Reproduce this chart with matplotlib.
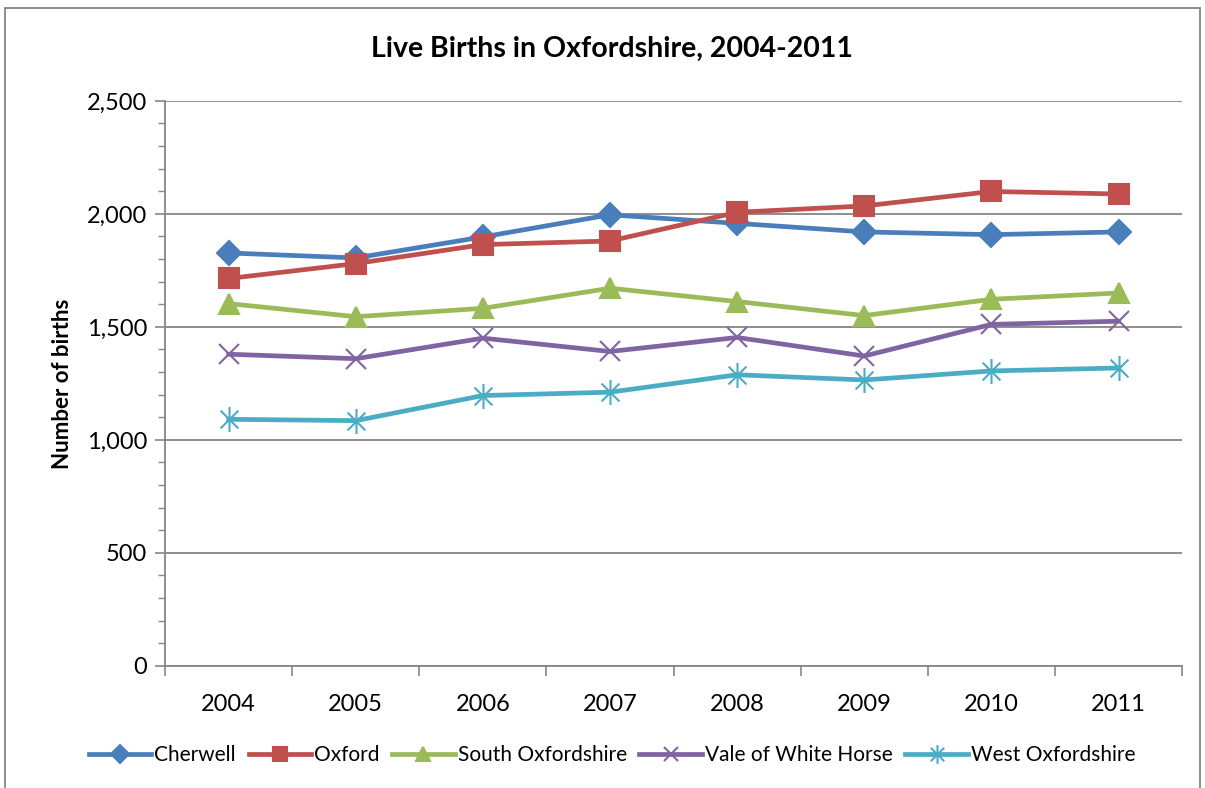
import numpy as np
import matplotlib.pyplot as plt
from matplotlib.path import Path
from matplotlib.patches import Rectangle
from matplotlib.ticker import FuncFormatter, MultipleLocator, FixedLocator

plt.rcParams['font.family'] = ['Lato', 'DejaVu Sans']

years = ['2004', '2005', '2006', '2007', '2008', '2009', '2010', '2011']
cherwell = [1827, 1805, 1898, 1996, 1958, 1920, 1908, 1920]
oxford = [1714, 1780, 1864, 1880, 2007, 2035, 2099, 2088]
south_oxon = [1603, 1545, 1582, 1671, 1612, 1550, 1622, 1650]
vale = [1379, 1359, 1450, 1391, 1453, 1371, 1511, 1525]
west_oxon = [1091, 1085, 1196, 1211, 1288, 1265, 1305, 1318]

# asterisk marker: x plus a vertical bar (Excel style)
star = Path([(-1, -1), (1, 1), (-1, 1), (1, -1), (0, -1.4), (0, 1.4)],
            [Path.MOVETO, Path.LINETO, Path.MOVETO, Path.LINETO, Path.MOVETO, Path.LINETO])

series = [
    ("Cherwell", cherwell, "#4A7EBB", "D", 12),
    ("Oxford", oxford, "#C0504D", "s", 14),
    ("South Oxfordshire", south_oxon, "#9BBB59", "^", 14),
    ("Vale of White Horse", vale, "#8064A2", "x", 14),
    ("West Oxfordshire", west_oxon, "#4BACC6", star, 18),
]

fig = plt.figure(figsize=(12.05, 7.88), dpi=100)
ax = fig.add_axes([0.137, 0.155, 0.844, 0.717])

x = np.arange(len(years))
for name, vals, col, mk, ms in series:
    ax.plot(x, vals, color=col, lw=3.4, marker=mk, ms=ms, mew=1.5,
            mec=col, mfc=col, label=name, solid_joinstyle='round')

ax.set_ylim(0, 2500)
ax.set_xlim(-0.5, 7.5)
ax.yaxis.set_major_locator(MultipleLocator(500))
ax.yaxis.set_minor_locator(MultipleLocator(100))
ax.yaxis.set_major_formatter(FuncFormatter(lambda v, p: f"{int(v):,}"))
ax.grid(axis='y', which='major', color='#868686', lw=1.3)
ax.set_axisbelow(True)

ax.xaxis.set_major_locator(FixedLocator(np.arange(-0.5, 8, 1)))
ax.xaxis.set_minor_locator(FixedLocator(x))
ax.set_xticklabels([], minor=False)
ax.set_xticklabels(years, minor=True)
ax.tick_params(axis='x', which='minor', length=0, labelsize=17, pad=20)
ax.tick_params(axis='x', which='major', length=7, width=1.2, color='#868686')
ax.tick_params(axis='y', which='major', length=7, width=1.2, color='#868686', labelsize=17, pad=6)
ax.tick_params(axis='y', which='minor', length=5, width=1.0, color='#868686')

for s in ['top', 'right']:
    ax.spines[s].set_visible(False)
for s in ['left', 'bottom']:
    ax.spines[s].set_color('#868686')
    ax.spines[s].set_linewidth(1.3)

ax.set_ylabel("Number of births", fontsize=16, fontweight='bold', labelpad=10)
fig.text(0.508, 0.938, "Live Births in Oxfordshire, 2004-2011", ha='center', va='center',
         fontsize=20.5, fontweight='bold')

ax.legend(loc='center', bbox_to_anchor=(0.508, 0.042), bbox_transform=fig.transFigure,
          ncol=5, frameon=False, fontsize=15, handlelength=3.0, handletextpad=0.15,
          columnspacing=0.6, markerscale=0.75)

fig.patches.append(Rectangle((0.004, -0.01), 0.992, 1.0, transform=fig.transFigure,
                             fill=False, ec='#868686', lw=1.3))

fig.savefig("out.png", dpi=100)
